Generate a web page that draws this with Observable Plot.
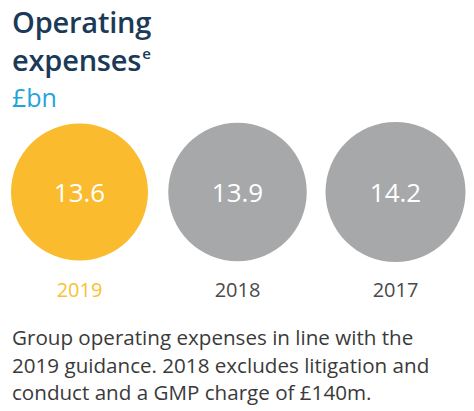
<!DOCTYPE html>
<html>
<head>
<meta charset="utf-8">
<script src="https://cdn.jsdelivr.net/npm/d3@7"></script>
<script src="https://cdn.jsdelivr.net/npm/@observablehq/plot@0.6"></script>
<style>
  html, body { margin: 0; padding: 0; background: #fff; }
  body { width: 474px; height: 411px; overflow: hidden; font-family: "Open Sans", "Noto Sans", sans-serif; }
  .title { position: absolute; left: 12px; color: #1b3a57; font-size: 29px; font-weight: 600; line-height: 30px; letter-spacing: -0.2px; white-space: nowrap; }
  #t1 { top: 7px; }
  #t2 { top: 45px; }
  .sup { font-size: 15px; font-weight: 600; position: relative; top: -12px; margin-left: 1px; }
  #unit { position: absolute; left: 12px; top: 82px; color: #1ea5da; font-size: 25px; font-weight: 400; line-height: 30px; }
  #chart { position: absolute; left: 0; top: 118px; }
  #caption { position: absolute; left: 12px; top: 324px; color: #3a3a3a; font-size: 20.6px; line-height: 27.5px; letter-spacing: 0; }
</style>
</head>
<body>
<div class="title" id="t1">Operating</div>
<div class="title" id="t2">expenses<span class="sup">e</span></div>
<div id="unit">£bn</div>
<div id="chart"></div>
<div id="caption">Group operating expenses in line with the<br>2019 guidance. 2018 excludes litigation and<br>conduct and a GMP charge of £140m.</div>
<script>
const years = ["2019", "2018", "2017"];
const values = [13.6, 13.9, 14.2];
const circleColors = ["#fbbb2e", "#a7a8aa", "#a7a8aa"];
const yearColors = ["#f7c233", "#4a4a4a", "#4a4a4a"];

const data = years.map((y, i) => ({year: y, value: values[i], fill: circleColors[i], yearFill: yearColors[i]}));

const chart = Plot.plot({
  width: 474,
  height: 195,
  marginTop: 5,
  marginBottom: 53,
  marginLeft: 79,
  marginRight: 79,
  x: {type: "point", domain: years, padding: 0, axis: null},
  r: {type: "sqrt", domain: [0, 14.2], range: [0, 70]},
  marks: [
    Plot.dot(data, {x: "year", r: "value", fill: "fill", stroke: null}),
    Plot.text(data, {x: "year", text: d => d.value.toFixed(1), fill: "white", fontSize: 26, fontFamily: "Open Sans, sans-serif", dy: 2}),
    Plot.text(data, {x: "year", text: "year", fill: "yearFill", fontSize: 20, fontWeight: 400, frameAnchor: "bottom", dy: 36, fontFamily: "Open Sans, sans-serif"})
  ],
  style: {background: "transparent", overflow: "visible"}
});
document.getElementById("chart").appendChild(chart);
</script>
</body>
</html>
